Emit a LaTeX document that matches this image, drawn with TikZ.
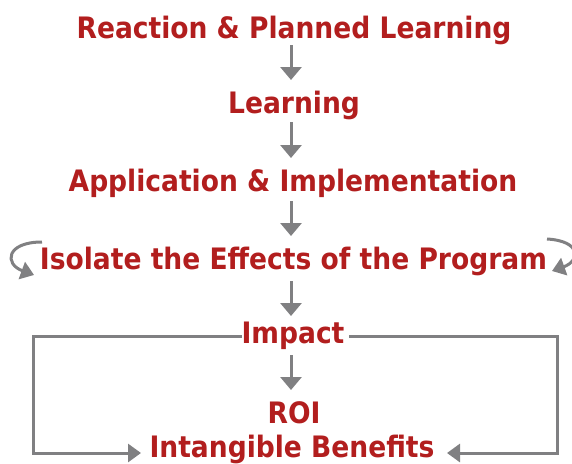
\documentclass[tikz,border=0pt]{standalone}
\usepackage{fontspec}
\setmainfont{DejaVu Sans Condensed}
\usetikzlibrary{arrows.meta}
\definecolor{tred}{RGB}{178,30,30}
\definecolor{tgray}{RGB}{128,128,130}
\tikzset{
  lbl/.style={text=tred, font=\fontsize{29.5}{32}\selectfont\bfseries, inner sep=1pt, anchor=center},
  gl/.style={draw=tgray, line width=3pt},
  dn/.style={gl, -{Triangle[width=21pt,length=13pt]}},
  tip/.style={gl, -{Triangle[width=18pt,length=13pt]}}
}
\begin{document}
\begin{tikzpicture}[x=1pt,y=-1pt]
\useasboundingbox (0,0) rectangle (572,463);
\node[lbl] (t1) at (294,30) {Reaction \& Planned Learning};
\node[lbl] (t2) at (294,105) {Learning};
\node[lbl] (t3) at (293,183) {Application \& Implementation};
\node[lbl] (t4) at (293.5,261) {Isolate the Effects of the Program};
\node[lbl] (t5) at (293,336) {Impact};
\node[lbl] (t6) at (294,413) {ROI};
\node[lbl] (t7) at (292,449) {Intangible Benefits};

\coordinate (a1s) at (291,45);  \coordinate (a1e) at (291,80);
\coordinate (a2s) at (291,122); \coordinate (a2e) at (291,158);
\coordinate (a3s) at (291,201); \coordinate (a3e) at (291,236);
\coordinate (a4s) at (291,281); \coordinate (a4e) at (291,316);
\coordinate (a5s) at (291,355); \coordinate (a5e) at (291,390);
\draw[dn] (a1s) -- (a1e);
\draw[dn] (a2s) -- (a2e);
\draw[dn] (a3s) -- (a3e);
\draw[dn] (a4s) -- (a4e);
\draw[dn] (a5s) -- (a5e);

% loop arrows
\coordinate (ls) at (42,242); \coordinate (le) at (34,275);
\coordinate (rs) at (547,239); \coordinate (re) at (552,271);
\draw[tip] (ls) .. controls (6,242) and (4,264) .. (le);
\draw[tip] (rs) .. controls (582,241) and (580,261) .. (re);

% side loops
\coordinate (L1) at (242,336); \coordinate (LC1) at (33,336);
\coordinate (LC2) at (33,453);  \coordinate (LT) at (141,453);
\coordinate (R1) at (349,336); \coordinate (RC1) at (557,336);
\coordinate (RC2) at (557,453); \coordinate (RT) at (447,453);
\draw[tip] (L1) -- (LC1) -- (LC2) -- (LT);
\draw[tip] (R1) -- (RC1) -- (RC2) -- (RT);
\end{tikzpicture}
\end{document}
